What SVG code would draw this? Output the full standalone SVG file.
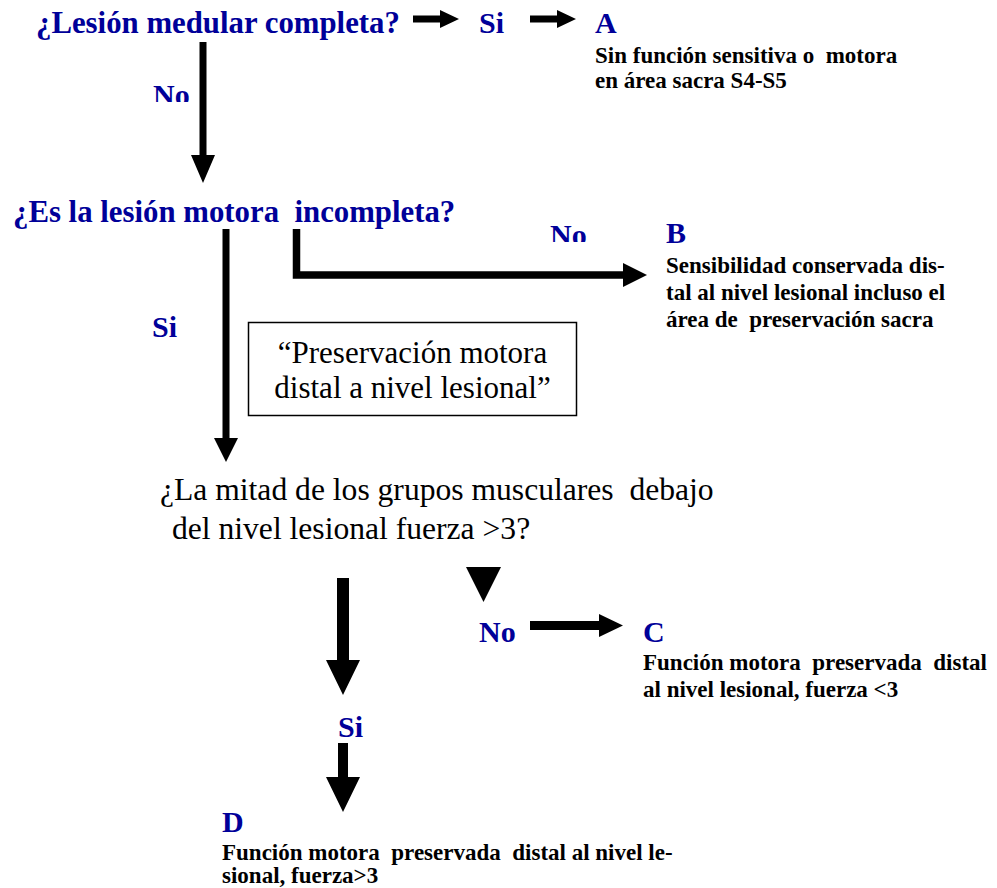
<svg xmlns="http://www.w3.org/2000/svg" width="997" height="888" viewBox="0 0 997 888" font-family="'Liberation Serif', 'Times New Roman', 'DejaVu Serif', serif">
<defs>
<style>
text{font-family:'Liberation Serif','Times New Roman','DejaVu Serif',serif;white-space:pre}
.q{font-size:30.8px;font-weight:bold;fill:#000099}
.lab{font-size:30px;font-weight:bold;fill:#000099}
.desc{font-size:23px;font-weight:bold;fill:#000000}
.reg{font-size:31px;fill:#000000}
.reg2{font-size:31.6px;fill:#000000}
.arr{fill:#000000}
.box{fill:#ffffff;stroke:#000000;stroke-width:1.5}
</style>
<clipPath id="clipNo1"><rect x="140" y="70" width="60" height="32"/></clipPath>
<clipPath id="clipNo2"><rect x="540" y="210" width="60" height="32"/></clipPath>
</defs>
<rect width="997" height="888" fill="#ffffff"/>
<g id="connectors">
<polygon class="arr" points="413,15.5 440,15.5 440,10 459,19 440,28 440,22.5 413,22.5"/>
<polygon class="arr" points="530,15.5 557,15.5 557,10 576,19 557,28 557,22.5 530,22.5"/>
<polygon class="arr" points="199.5,42 206.5,42 206.5,155 215,155 203,183 191,155 199.5,155"/>
<polygon class="arr" points="222.5,229 229.5,229 229.5,438 238,438 226,462 214,438 222.5,438"/>
<path d="M296.5,229 V275 H625" fill="none" stroke="#000000" stroke-width="7.5"/>
<polygon class="arr" points="623,263 647,275 623,287"/>
<polygon class="arr" points="337,578 349,578 349,660 360,660 343,695 326,660 337,660"/>
<polygon class="arr" points="466,567 501,567 483.5,602"/>
<polygon class="arr" points="530,621 599,621 599,614 623,625.5 599,637 599,630 530,630"/>
<polygon class="arr" points="338,743 348,743 348,777 360,777 343,812 326,777 338,777"/>
</g>
<g id="q1"><text class="q" x="36" y="33">¿Lesión medular completa?</text></g>
<g id="si1"><text class="lab" x="479" y="33">Si</text></g>
<g id="nodeA">
<text class="lab" x="595" y="33">A</text>
<text class="desc" x="595" y="63">Sin función sensitiva o  motora</text>
<text class="desc" x="595" y="88">en área sacra S4-S5</text>
</g>
<g id="no1" clip-path="url(#clipNo1)"><text class="lab" x="153" y="105">No</text></g>
<g id="q2"><text class="q" x="13" y="222">¿Es la lesión motora  incompleta?</text></g>
<g id="no2" clip-path="url(#clipNo2)"><text class="lab" x="550" y="245">No</text></g>
<g id="nodeB">
<text class="lab" x="666" y="243">B</text>
<text class="desc" x="666" y="273">Sensibilidad conservada dis-</text>
<text class="desc" x="666" y="300">tal al nivel lesional incluso el</text>
<text class="desc" x="666" y="327">área de  preservación sacra</text>
</g>
<g id="si2"><text class="lab" x="152" y="337">Si</text></g>
<g id="note">
<rect class="box" x="248.5" y="322.5" width="328" height="93"/>
<text class="reg" x="412.5" y="363" text-anchor="middle">“Preservación motora</text>
<text class="reg" x="412.5" y="398" text-anchor="middle">distal a nivel lesional”</text>
</g>
<g id="q3">
<text class="reg2" x="160" y="500">¿La mitad de los grupos musculares  debajo</text>
<text class="reg2" x="172" y="539">del nivel lesional fuerza &gt;3?</text>
</g>
<g id="no3"><text class="lab" x="479" y="642">No</text></g>
<g id="nodeC">
<text class="lab" x="643" y="642">C</text>
<text class="desc" x="643" y="670">Función motora  preservada  distal</text>
<text class="desc" x="643" y="697">al nivel lesional, fuerza &lt;3</text>
</g>
<g id="si3"><text class="lab" x="338" y="737">Si</text></g>
<g id="nodeD">
<text class="lab" x="222" y="832">D</text>
<text class="desc" x="222" y="860">Función motora  preservada  distal al nivel le-</text>
<text class="desc" x="222" y="883">sional, fuerza&gt;3</text>
</g>
</svg>
